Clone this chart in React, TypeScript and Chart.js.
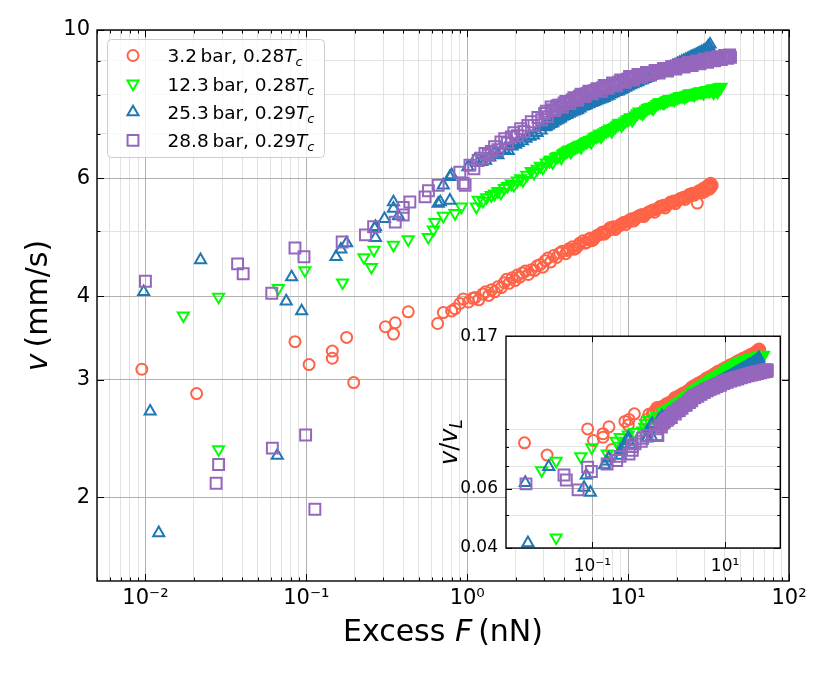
import { useEffect, useRef } from 'react';
import { Chart, registerables } from 'chart.js';
import type { ChartConfiguration, Plugin, Scale } from 'chart.js';

Chart.register(...registerables);

const FONT = '"DejaVu Sans", sans-serif';

// legend entries
const pressures = ['3.2', '12.3', '25.3', '28.8'];
const temperatures = ['0.28', '0.28', '0.29', '0.29'];
const colors = ['#ff6347', '#00ff00', '#1f77b4', '#9467bd'];
const pointStyles = ['circle', 'triangle', 'triangle', 'rect'];
const rotations = [0, 180, 0, 0];
const radii = [5.5, 6.4, 6.4, 7.7];

// Landau velocity v_L (mm/s) of each run, used for the inset
const landauV = [37.9, 55.0, 65.0, 67.9];

// [excess F (nN), v (mm/s)]
const run32: [number, number][] = [
  [0.0095, 3.11], [0.0208, 2.86], [0.085, 3.42], [0.104, 3.16], [0.145, 3.31], [0.145, 3.23],
  [0.178, 3.47], [0.197, 2.97], [0.31, 3.6], [0.348, 3.51], [0.357, 3.65], [0.43, 3.79],
  [0.655, 3.64], [0.71, 3.78], [0.8, 3.8], [0.84, 3.83], [0.9, 3.9], [0.945, 3.96],
  [1.02, 3.92], [1.08, 3.97], [1.12, 3.98], [1.18, 3.95], [1.25, 4.03], [1.3, 4.06],
  [1.36, 4.01], [1.42, 4.09], [1.48, 4.06], [1.55, 4.13], [1.63, 4.12], [1.7, 4.19],
  [1.76, 4.24], [1.82, 4.18], [1.9, 4.26], [1.98, 4.22], [2.05, 4.3], [2.12, 4.27],
  [2.2, 4.33], [2.3, 4.36], [2.4, 4.31], [2.5, 4.38], [2.62, 4.37], [2.72, 4.44],
  [2.85, 4.46], [2.95, 4.42], [3.05, 4.52], [3.17, 4.56], [3.3, 4.5], [3.45, 4.6],
  [3.6, 4.57], [3.75, 4.64], [3.9, 4.67], [4.1, 4.63], [4.3, 4.71], [4.5, 4.74],
  [4.75, 4.72], [5.0, 4.8], [5.25, 4.84], [5.5, 4.81], [5.8, 4.88], [6.1, 4.86],
  [6.4, 4.93], [6.8, 4.97], [7.1, 4.95], [7.5, 5.02], [7.9, 5.05], [8.3, 5.03],
  [8.8, 5.1], [9.2, 5.14], [9.7, 5.12], [10.2, 5.2], [10.8, 5.18], [11.3, 5.25],
  [11.9, 5.28], [12.5, 5.26], [13.2, 5.33], [13.9, 5.36], [14.6, 5.34], [15.4, 5.42],
  [16.2, 5.44], [17.0, 5.42], [17.9, 5.5], [18.8, 5.52], [19.7, 5.5], [20.6, 5.57],
  [21.6, 5.6], [22.6, 5.58], [23.6, 5.65], [24.6, 5.67], [25.7, 5.66], [26.9, 5.51],
  [27.0, 5.72], [28.0, 5.74], [29.0, 5.71], [29.8, 5.78], [30.2, 5.74], [30.6, 5.8],
  [31.3, 5.83], [31.9, 5.86], [32.0, 5.78], [32.4, 5.84], [32.9, 5.88], [33.3, 5.86],
  [4.2, 4.68], [4.6, 4.7], [4.9, 4.76], [5.4, 4.8], [5.65, 4.86], [5.95, 4.84],
  [6.25, 4.9], [6.6, 4.94], [6.95, 4.99], [7.3, 4.98], [7.7, 5.06], [8.1, 5.08],
  [8.55, 5.07], [9.0, 5.12], [9.45, 5.16], [9.95, 5.17], [10.5, 5.22], [11.05, 5.21],
  [11.6, 5.27], [12.2, 5.3], [12.85, 5.3], [13.55, 5.35], [14.25, 5.38], [15.0, 5.39],
  [15.8, 5.45], [16.6, 5.47], [17.45, 5.47], [18.35, 5.53], [19.25, 5.55], [20.15, 5.55],
  [21.1, 5.6], [22.1, 5.62], [23.1, 5.63], [24.1, 5.68], [25.1, 5.7], [26.3, 5.7],
  [27.5, 5.75], [28.5, 5.76], [29.4, 5.8], [30.9, 5.84], [31.6, 5.87], [32.6, 5.9],
  [33.0, 5.83],
];

const run123: [number, number][] = [
  [0.0172, 3.74], [0.0285, 3.99], [0.0285, 2.36], [0.067, 4.11], [0.098, 4.37], [0.168, 4.19],
  [0.228, 4.57], [0.254, 4.42], [0.263, 4.69], [0.348, 4.77], [0.43, 4.86], [0.573, 4.9],
  [0.616, 5.03], [0.63, 5.16], [0.71, 5.27], [0.84, 5.32], [0.92, 5.44], [1.14, 5.44],
  [1.17, 5.57], [1.25, 5.55], [1.32, 5.62], [1.41, 5.66], [1.48, 5.69], [1.55, 5.74],
  [1.62, 5.71], [1.7, 5.8], [1.78, 5.84], [1.88, 5.89], [1.95, 5.86], [2.05, 5.95],
  [2.15, 6.0], [2.22, 5.96], [2.35, 6.07], [2.5, 6.15], [2.6, 6.11], [2.72, 6.2],
  [2.85, 6.26], [2.95, 6.22], [3.1, 6.33], [3.25, 6.37], [3.4, 6.34], [3.55, 6.45],
  [3.7, 6.48], [3.85, 6.44], [4.0, 6.55], [4.2, 6.6], [4.4, 6.57], [4.6, 6.66],
  [4.86, 6.7], [5.1, 6.68], [5.35, 6.78], [5.6, 6.82], [5.9, 6.8], [6.2, 6.92],
  [6.5, 6.95], [6.8, 6.93], [7.1, 7.03], [7.5, 7.08], [7.9, 7.06], [8.3, 7.16],
  [8.7, 7.24], [9.1, 7.2], [9.6, 7.3], [10.1, 7.36], [10.6, 7.33], [11.1, 7.45],
  [11.7, 7.55], [12.3, 7.5], [12.9, 7.6], [13.6, 7.66], [14.3, 7.63], [15.0, 7.74],
  [15.9, 7.8], [16.7, 7.78], [17.6, 7.85], [18.5, 7.88], [19.4, 7.86], [20.4, 7.93],
  [21.4, 7.96], [22.4, 7.94], [23.5, 8.0], [24.6, 8.03], [25.8, 8.0], [27.0, 8.06],
  [28.2, 8.09], [29.4, 8.05], [30.6, 8.12], [31.8, 8.1], [33.0, 8.15], [34.0, 8.06],
  [34.2, 8.17], [35.4, 8.14], [36.0, 8.08], [36.6, 8.2], [37.8, 8.22],
  [3.3, 6.4], [3.63, 6.47], [3.93, 6.52], [4.1, 6.57], [4.3, 6.62], [4.5, 6.64],
  [4.73, 6.68], [4.98, 6.73], [5.22, 6.75], [5.48, 6.8], [5.75, 6.85], [6.05, 6.88],
  [6.35, 6.93], [6.65, 6.99], [6.95, 7.0], [7.3, 7.06], [7.7, 7.12], [8.1, 7.13],
  [8.5, 7.2], [8.9, 7.26], [9.35, 7.26], [9.85, 7.34], [10.35, 7.4], [10.85, 7.4],
  [11.4, 7.5], [12.0, 7.53], [12.6, 7.56], [13.25, 7.64], [13.95, 7.67], [14.65, 7.7],
  [15.45, 7.78], [16.3, 7.8], [17.15, 7.83], [18.05, 7.88], [18.95, 7.89], [19.9, 7.91],
  [20.9, 7.96], [21.9, 7.97], [22.95, 7.98], [24.05, 8.03], [25.2, 8.03], [26.4, 8.05],
  [27.6, 8.08], [28.8, 8.08], [30.0, 8.1], [31.2, 8.13], [32.4, 8.13], [33.6, 8.17],
  [34.8, 8.16], [36.3, 8.18], [37.2, 8.2],
];

const run253: [number, number][] = [
  [0.00975, 4.06], [0.0107, 2.69], [0.0121, 1.77], [0.022, 4.53], [0.066, 2.31], [0.075, 3.93],
  [0.081, 4.27], [0.0935, 3.8], [0.153, 4.58], [0.164, 4.7], [0.178, 4.8], [0.266, 5.05],
  [0.269, 4.89], [0.269, 5.08], [0.306, 5.22], [0.348, 5.53], [0.348, 5.41], [0.374, 5.27],
  [0.66, 5.5], [0.68, 5.53], [0.71, 5.86], [0.78, 5.56], [0.78, 6.03], [0.8, 6.07],
  [1.01, 6.24], [1.12, 6.4], [1.23, 6.35], [1.3, 6.38], [1.38, 6.45], [1.48, 6.54],
  [1.55, 6.5], [1.62, 6.6], [1.7, 6.63], [1.8, 6.6], [1.9, 6.7], [2.0, 6.74],
  [2.07, 6.78], [2.2, 6.82], [2.32, 6.88], [2.45, 6.93], [2.58, 6.96], [2.72, 7.02],
  [2.88, 7.08], [3.03, 7.16], [3.2, 7.2], [3.4, 7.26], [3.6, 7.33], [3.8, 7.38],
  [4.0, 7.44], [4.3, 7.5], [4.6, 7.56], [4.86, 7.6], [5.2, 7.68], [5.5, 7.72],
  [5.9, 7.78], [6.3, 7.83], [6.7, 7.88], [7.1, 7.92], [7.6, 7.98], [8.1, 8.05],
  [8.7, 8.1], [9.3, 8.17], [10.0, 8.24], [10.7, 8.3], [11.5, 8.36], [12.3, 8.42],
  [13.2, 8.48], [14.1, 8.55], [15.1, 8.62], [16.1, 8.68], [17.2, 8.74], [18.4, 8.8],
  [19.6, 8.86], [20.9, 8.93], [22.2, 9.0], [23.6, 9.06], [25.0, 9.12], [26.5, 9.18],
  [28.0, 9.24], [29.5, 9.3], [30.8, 9.36], [31.2, 9.42], [31.8, 9.45], [32.3, 9.52],
  [3.1, 7.17], [3.3, 7.24], [3.5, 7.3], [3.7, 7.35], [3.9, 7.42], [4.15, 7.47],
  [4.45, 7.53], [4.73, 7.58], [5.03, 7.64], [5.35, 7.7], [5.7, 7.75], [6.1, 7.8],
  [6.5, 7.86], [6.9, 7.9], [7.35, 7.95], [7.85, 8.02], [8.4, 8.08], [9.0, 8.13],
  [9.65, 8.2], [10.35, 8.27], [11.1, 8.33], [11.9, 8.4], [12.75, 8.45], [13.65, 8.52],
  [14.6, 8.6], [15.6, 8.65], [16.65, 8.72], [17.8, 8.77], [19.0, 8.84], [20.25, 8.9],
  [21.55, 8.97], [22.9, 9.03], [24.3, 9.09], [25.75, 9.15], [27.25, 9.21], [28.75, 9.27],
  [30.15, 9.33],
];

const run288: [number, number][] = [
  [0.01, 4.21], [0.0275, 2.1], [0.0285, 2.24], [0.0374, 4.47], [0.0405, 4.32], [0.061, 4.04],
  [0.0615, 2.37], [0.085, 4.72], [0.0967, 4.58], [0.099, 2.48], [0.113, 1.92], [0.167, 4.82],
  [0.233, 4.94], [0.262, 5.08], [0.357, 5.16], [0.4, 5.29], [0.4, 5.43], [0.44, 5.53],
  [0.547, 5.63], [0.574, 5.75], [0.66, 5.86], [0.9, 6.13], [0.945, 5.9], [0.97, 5.86],
  [1.04, 6.28], [1.1, 6.2], [1.17, 6.38], [1.23, 6.43], [1.29, 6.54], [1.35, 6.5],
  [1.41, 6.58], [1.48, 6.69], [1.55, 6.62], [1.62, 6.8], [1.71, 6.88], [1.78, 6.78],
  [1.88, 6.92], [1.95, 7.02], [2.05, 6.95], [2.15, 7.12], [2.25, 7.05], [2.38, 7.2],
  [2.5, 7.29], [2.6, 7.2], [2.75, 7.4], [2.9, 7.34], [3.03, 7.5], [3.15, 7.42],
  [3.32, 7.67], [3.5, 7.58], [3.7, 7.72], [3.9, 7.66], [4.1, 7.82], [4.35, 7.76],
  [4.6, 7.92], [4.86, 7.85], [5.1, 8.02], [5.4, 7.95], [5.7, 8.1], [6.0, 8.03],
  [6.4, 8.17], [6.8, 8.1], [7.1, 8.26], [7.5, 8.18], [8.0, 8.33], [8.5, 8.25],
  [9.0, 8.42], [9.6, 8.35], [10.2, 8.52], [10.8, 8.42], [11.5, 8.58], [12.2, 8.5],
  [13.0, 8.64], [13.8, 8.56], [14.7, 8.7], [15.6, 8.62], [16.6, 8.76], [17.6, 8.68],
  [18.7, 8.82], [19.8, 8.74], [21.0, 8.88], [22.3, 8.8], [23.6, 8.94], [25.0, 8.85],
  [26.5, 8.99], [28.0, 8.9], [29.6, 9.04], [31.2, 8.95], [32.8, 9.08], [34.5, 8.99],
  [36.2, 9.12], [38.0, 9.03], [39.8, 9.16], [41.5, 9.07], [42.8, 9.18], [43.3, 9.1],
  [3.1, 7.56], [3.4, 7.6], [3.6, 7.7], [3.8, 7.72], [4.0, 7.78], [4.22, 7.82],
  [4.48, 7.86], [4.73, 7.9], [4.98, 7.96], [5.25, 8.0], [5.55, 8.04], [5.85, 8.08],
  [6.2, 8.12], [6.6, 8.15], [6.95, 8.2], [7.3, 8.22], [7.75, 8.26], [8.25, 8.3],
  [8.75, 8.36], [9.3, 8.4], [9.9, 8.44], [10.5, 8.47], [11.15, 8.52], [11.85, 8.55],
  [12.6, 8.58], [13.4, 8.62], [14.25, 8.64], [15.15, 8.68], [16.1, 8.7], [17.1, 8.73],
  [18.15, 8.76], [19.25, 8.79], [20.4, 8.82], [21.65, 8.85], [22.95, 8.88], [24.3, 8.9],
  [25.75, 8.93], [27.25, 8.96], [28.8, 8.98], [30.4, 9.0], [32.0, 9.02], [33.65, 9.04],
  [35.35, 9.06], [37.1, 9.08], [38.9, 9.1], [40.65, 9.12], [42.2, 9.13],
];

const runs = [run32, run123, run253, run288];

// ticks of the main axes
const xTicks = [0.01, 0.1, 1, 10, 100];
const xTickLabels = ['10⁻²', '10⁻¹', '10⁰', '10¹', '10²'];
const xMinorTicks = [
  0.005, 0.006, 0.007, 0.008, 0.009, 0.02, 0.03, 0.04, 0.05, 0.06, 0.07, 0.08, 0.09,
  0.2, 0.3, 0.4, 0.5, 0.6, 0.7, 0.8, 0.9, 2, 3, 4, 5, 6, 7, 8, 9,
  20, 30, 40, 50, 60, 70, 80, 90,
];
const yTicks = [2, 3, 4, 6, 10];
const yTickLabels = ['2', '3', '4', '6', '10'];
const yMinorTicks = [5, 7, 8, 9];

// ticks of the inset
const insetXTicks = [0.1, 10];
const insetXTickLabels = ['10⁻¹', '10¹'];
const insetYTicks = [0.04, 0.06, 0.17];
const insetYTickLabels = ['0.04', '0.06', '0.17'];
const insetYMinorTicks = [0.05, 0.07, 0.08, 0.09];

const MAJOR_GRID = '#b0b0b0';
const MINOR_GRID = '#e2e2e2';
const MARKER_LINE = 2;

type Part = { t: string; italic?: boolean; sub?: boolean };

function drawParts(ctx: CanvasRenderingContext2D, parts: Part[], x: number, y: number, size: number, align: 'left' | 'center') {
  const font = (p: Part) => `${p.italic ? 'italic ' : ''}${p.sub ? size * 0.7 : size}px ${FONT}`;
  const widths = parts.map((p) => {
    ctx.font = font(p);
    return ctx.measureText(p.t).width;
  });
  let cx = align === 'center' ? x - widths.reduce((a, b) => a + b, 0) / 2 : x;
  ctx.textAlign = 'left';
  ctx.textBaseline = 'alphabetic';
  parts.forEach((p, i) => {
    ctx.font = font(p);
    ctx.fillText(p.t, cx, y + (p.sub ? size * 0.22 : 0));
    cx += widths[i];
  });
}

function drawMarker(ctx: CanvasRenderingContext2D, i: number, x: number, y: number) {
  const r = radii[i];
  ctx.strokeStyle = colors[i];
  ctx.lineWidth = MARKER_LINE;
  ctx.beginPath();
  if (pointStyles[i] === 'circle') {
    ctx.arc(x, y, r, 0, Math.PI * 2);
  } else if (pointStyles[i] === 'rect') {
    const h = r * Math.SQRT1_2;
    ctx.rect(x - h, y - h, 2 * h, 2 * h);
  } else {
    let a = (rotations[i] * Math.PI) / 180;
    ctx.moveTo(x + Math.sin(a) * r, y - Math.cos(a) * r);
    for (let k = 0; k < 2; k++) {
      a += (Math.PI * 2) / 3;
      ctx.lineTo(x + Math.sin(a) * r, y - Math.cos(a) * r);
    }
    ctx.closePath();
  }
  ctx.stroke();
}

function logAxis(min: number, max: number, major: number[], minor: number[], labels: string[], size: number, padding: number, fit: (s: Scale) => void) {
  return {
    type: 'logarithmic' as const,
    min,
    max,
    afterBuildTicks: (scale: Scale) => {
      scale.ticks = [
        ...major.map((value) => ({ value, major: true })),
        ...minor.map((value) => ({ value, major: false })),
      ].sort((a, b) => a.value - b.value);
    },
    afterFit: fit,
    grid: {
      drawTicks: false,
      lineWidth: 1,
      color: (c: any) => (c.tick && c.tick.major ? MAJOR_GRID : MINOR_GRID),
    },
    border: { display: false },
    ticks: {
      autoSkip: false,
      maxRotation: 0,
      padding,
      color: '#000',
      font: { family: FONT, size },
      callback: (value: number | string) => {
        const i = major.indexOf(Number(value));
        return i >= 0 ? labels[i] : '';
      },
    },
  };
}

// frame on all four sides and ticks pointing inwards
function frameTicks(xMaj: number[], xMin: number[], yMaj: number[], yMin: number[], majLen: number, minLen: number): Plugin<'scatter'> {
  return {
    id: 'frameTicks',
    afterDatasetsDraw(chart) {
      const { ctx, chartArea: a } = chart;
      const xs = chart.scales.x;
      const ys = chart.scales.y;
      ctx.save();
      ctx.strokeStyle = '#000';
      ctx.lineWidth = 1;
      ctx.beginPath();
      const tx = (v: number, len: number) => {
        const p = Math.round(xs.getPixelForValue(v)) + 0.5;
        ctx.moveTo(p, a.bottom);
        ctx.lineTo(p, a.bottom - len);
        ctx.moveTo(p, a.top);
        ctx.lineTo(p, a.top + len);
      };
      const ty = (v: number, len: number) => {
        const p = Math.round(ys.getPixelForValue(v)) + 0.5;
        ctx.moveTo(a.left, p);
        ctx.lineTo(a.left + len, p);
        ctx.moveTo(a.right, p);
        ctx.lineTo(a.right - len, p);
      };
      xMaj.forEach((v) => tx(v, majLen));
      xMin.forEach((v) => tx(v, minLen));
      yMaj.forEach((v) => ty(v, majLen));
      yMin.forEach((v) => ty(v, minLen));
      ctx.stroke();
      ctx.lineWidth = 1.4;
      ctx.strokeRect(a.left, a.top, a.right - a.left, a.bottom - a.top);
      ctx.restore();
    },
  };
}

const mainText: Plugin<'scatter'> = {
  id: 'mainText',
  afterDraw(chart) {
    const { ctx, chartArea: a } = chart;
    ctx.save();
    ctx.fillStyle = '#000';
    drawParts(ctx, [{ t: 'Excess ' }, { t: 'F', italic: true }, { t: '\u2009(nN)' }], (a.left + a.right) / 2, 641, 30, 'center');
    ctx.translate(36, (a.top + a.bottom) / 2);
    ctx.rotate(-Math.PI / 2);
    drawParts(ctx, [{ t: 'v', italic: true }, { t: '\u2009(mm/s)' }], 0, 11, 30, 'center');
    ctx.restore();

    // legend
    ctx.save();
    const bx = a.left + 10.5;
    const by = a.top + 9.5;
    ctx.beginPath();
    ctx.roundRect(bx, by, 217, 118, 4);
    ctx.fillStyle = 'rgba(255,255,255,0.8)';
    ctx.fill();
    ctx.strokeStyle = '#cccccc';
    ctx.lineWidth = 1;
    ctx.stroke();
    pressures.forEach((p, i) => {
      const y = by + 16 + i * 28.3;
      drawMarker(ctx, i, bx + 25.5, y);
      ctx.fillStyle = '#000';
      drawParts(
        ctx,
        [{ t: `${p}\u2009bar, ${temperatures[i]}` }, { t: 'T', italic: true }, { t: 'c', italic: true, sub: true }],
        bx + 60,
        y + 6.7,
        18.5,
        'left',
      );
    });
    ctx.restore();
  },
};

const insetText: Plugin<'scatter'> = {
  id: 'insetText',
  beforeDraw(chart) {
    const { ctx, chartArea: a } = chart;
    ctx.save();
    ctx.fillStyle = '#fff';
    ctx.fillRect(a.left, a.top, a.right - a.left, a.bottom - a.top);
    ctx.restore();
  },
  afterDraw(chart) {
    const { ctx, chartArea: a } = chart;
    ctx.save();
    ctx.fillStyle = '#000';
    ctx.translate(18, (a.top + a.bottom) / 2);
    ctx.rotate(-Math.PI / 2);
    drawParts(ctx, [{ t: 'v', italic: true }, { t: '/' }, { t: 'v', italic: true }, { t: 'L', italic: true, sub: true }], 0, 9, 24, 'center');
    ctx.restore();
  },
};

function datasets(scale: (i: number) => number) {
  return runs.map((run, i) => ({
    label: `${pressures[i]} bar, ${temperatures[i]}Tc`,
    data: run.map(([x, y]) => ({ x, y: y / scale(i) })),
    showLine: false,
    order: runs.length - 1 - i,
    pointStyle: pointStyles[i] as any,
    pointRotation: rotations[i],
    pointRadius: radii[i],
    pointBorderWidth: MARKER_LINE,
    pointBorderColor: colors[i],
    pointBackgroundColor: 'rgba(0,0,0,0)',
  }));
}

function mainConfig(): ChartConfiguration<'scatter'> {
  return {
    type: 'scatter',
    data: { datasets: datasets(() => 1) },
    options: {
      responsive: false,
      animation: false,
      events: [],
      layout: { padding: { top: 30, right: 42, left: 0, bottom: 0 } },
      plugins: { legend: { display: false }, tooltip: { enabled: false } },
      scales: {
        x: logAxis(0.005, 100, xTicks, xMinorTicks, xTickLabels, 21, 5, (s) => { s.height = 100; }) as any,
        y: logAxis(1.5, 10, yTicks, yMinorTicks, yTickLabels, 21, 7, (s) => { s.width = 97; }) as any,
      },
    },
    plugins: [frameTicks(xTicks, xMinorTicks, yTicks, yMinorTicks, 7, 3.5), mainText],
  };
}

function insetConfig(): ChartConfiguration<'scatter'> {
  return {
    type: 'scatter',
    data: { datasets: datasets((i) => landauV[i]) },
    options: {
      responsive: false,
      animation: false,
      events: [],
      layout: { padding: { top: 9, right: 7, left: 0, bottom: 0 } },
      plugins: { legend: { display: false }, tooltip: { enabled: false } },
      scales: {
        x: logAxis(0.005, 68, insetXTicks, [], insetXTickLabels, 17, 8, (s) => { s.height = 35; }) as any,
        y: logAxis(0.04, 0.17, insetYTicks, insetYMinorTicks, insetYTickLabels, 17, 8, (s) => { s.width = 76; }) as any,
      },
    },
    plugins: [frameTicks(insetXTicks, [], insetYTicks, insetYMinorTicks, 6, 3), insetText],
  };
}

export default function App() {
  const mainRef = useRef<HTMLCanvasElement>(null);
  const insetRef = useRef<HTMLCanvasElement>(null);

  useEffect(() => {
    if (!mainRef.current || !insetRef.current) return;
    const main = new Chart(mainRef.current, mainConfig());
    const inset = new Chart(insetRef.current, insetConfig());
    return () => {
      main.destroy();
      inset.destroy();
    };
  }, []);

  return (
    <div style={{ position: 'fixed', left: 0, top: 0, width: 831, height: 681, background: '#fff' }}>
      <canvas ref={mainRef} width={831} height={681} style={{ position: 'absolute', left: 0, top: 0 }} />
      <canvas ref={insetRef} width={360} height={265} style={{ position: 'absolute', left: 430, top: 318 }} />
    </div>
  );
}
